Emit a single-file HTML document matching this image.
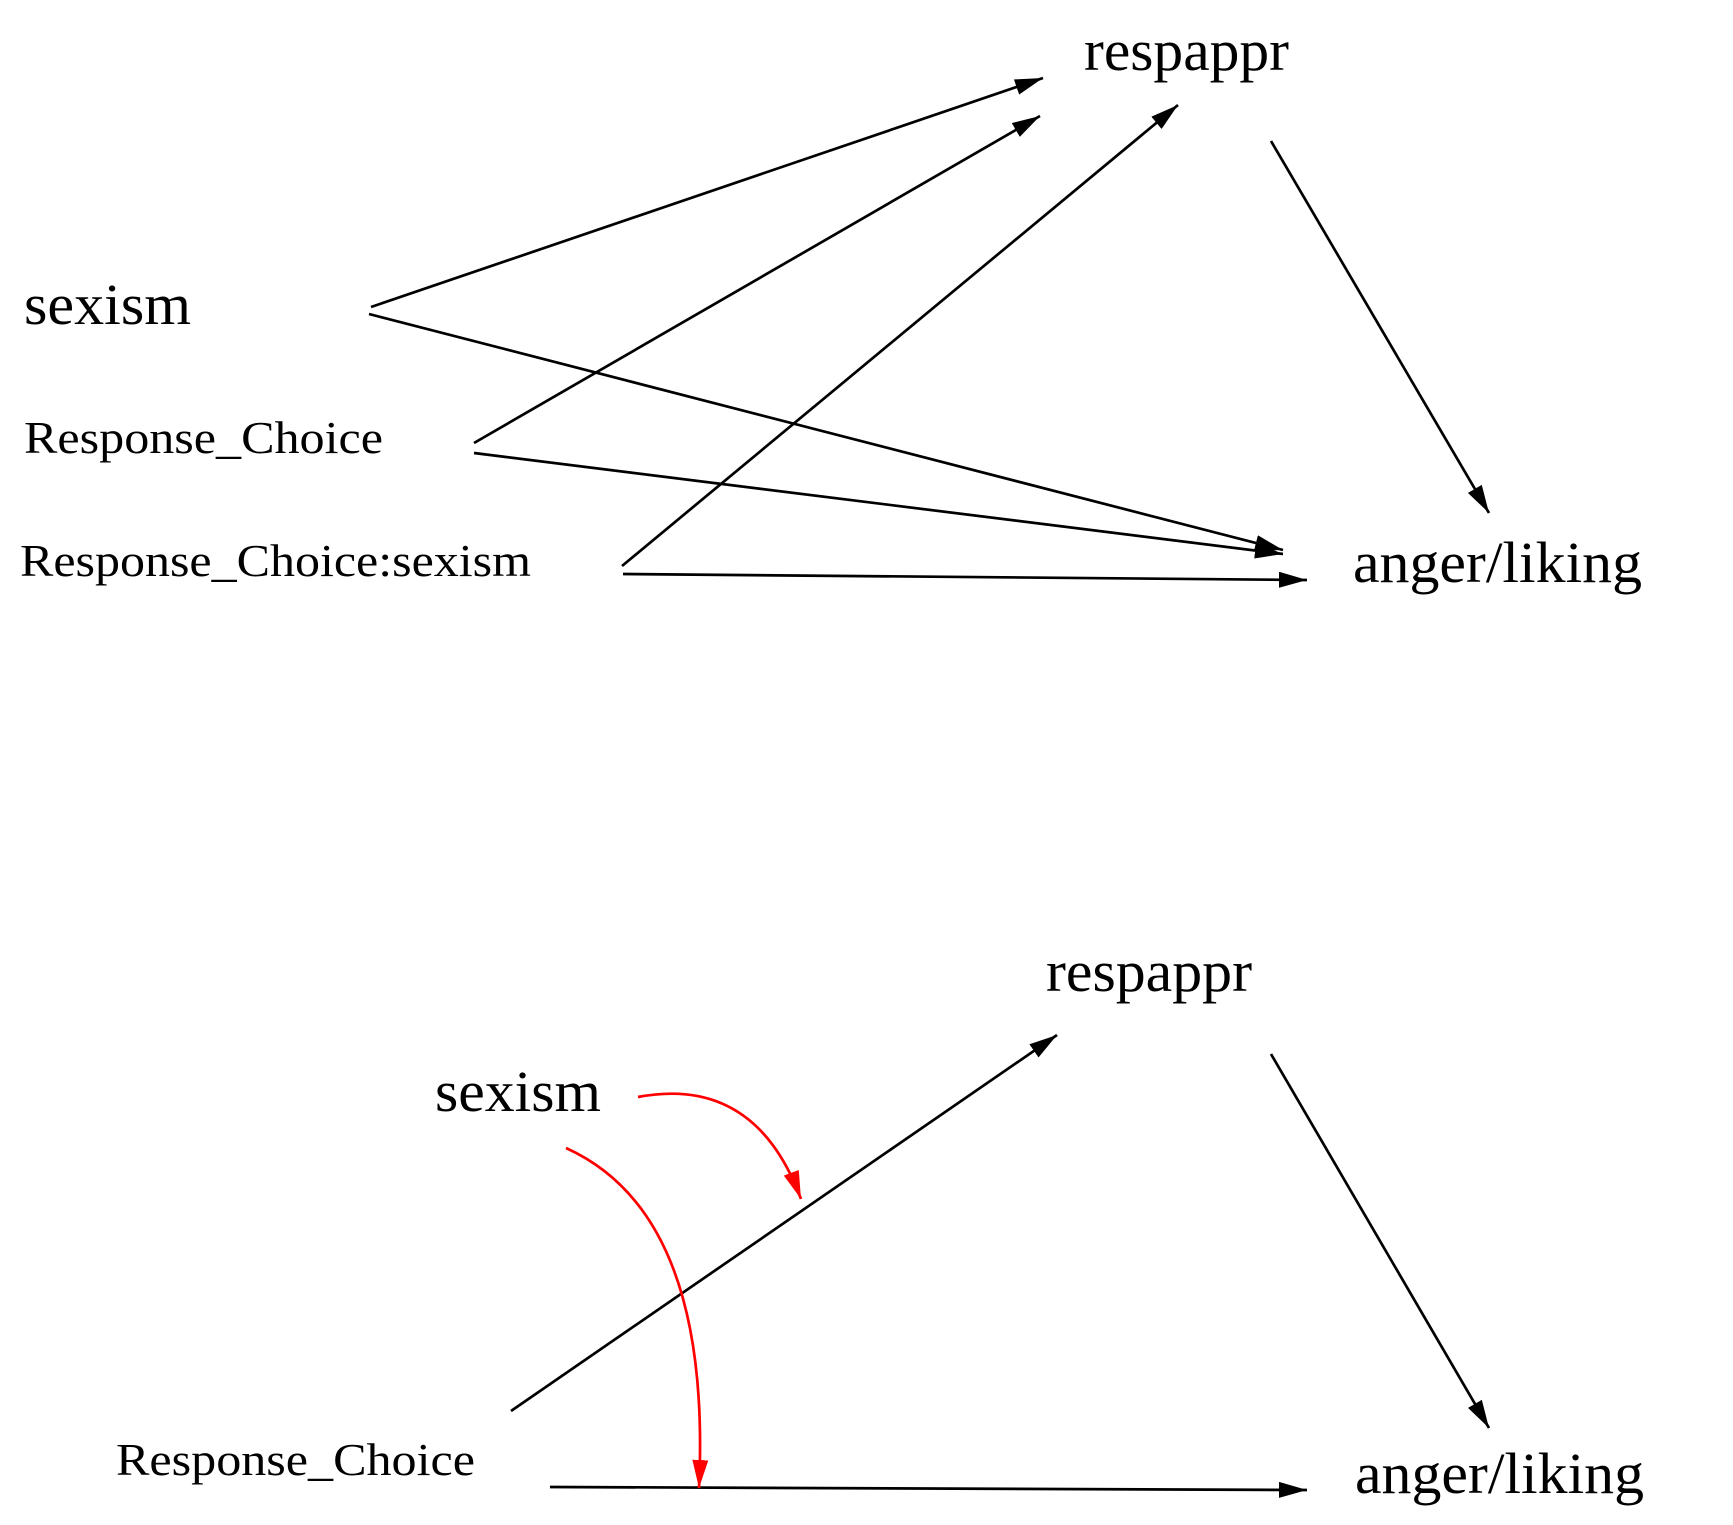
<!DOCTYPE html>
<html><head><meta charset="utf-8"><style>
html,body{margin:0;padding:0;background:#fff;}
svg{display:block;}
text{font-family:"Liberation Serif",serif;fill:#000;}
</style></head><body>
<svg width="1733" height="1525" viewBox="0 0 1733 1525" xmlns="http://www.w3.org/2000/svg">
<defs>
<marker id="a" markerWidth="28" markerHeight="16" refX="28" refY="8" orient="auto" markerUnits="userSpaceOnUse">
<path d="M0,0 L28,8 L0,16 z" fill="#000"/></marker>
<marker id="r" markerWidth="28" markerHeight="16" refX="28" refY="8" orient="auto" markerUnits="userSpaceOnUse">
<path d="M0,0 L28,8 L0,16 z" fill="#f00"/></marker>
</defs>
<g font-size="58">
<text x="1084" y="70" textLength="205" lengthAdjust="spacingAndGlyphs">respappr</text>
<text x="24" y="324" textLength="167" lengthAdjust="spacingAndGlyphs">sexism</text>
<text x="1353" y="582" textLength="289" lengthAdjust="spacingAndGlyphs">anger/liking</text>
<text x="1046" y="991" textLength="206" lengthAdjust="spacingAndGlyphs">respappr</text>
<text x="435" y="1111" textLength="166" lengthAdjust="spacingAndGlyphs">sexism</text>
<text x="1355" y="1493" textLength="289" lengthAdjust="spacingAndGlyphs">anger/liking</text>
</g>
<g font-size="46">
<text x="24" y="453" textLength="359" lengthAdjust="spacingAndGlyphs">Response_Choice</text>
<text x="20" y="576" textLength="511" lengthAdjust="spacingAndGlyphs">Response_Choice:sexism</text>
<text x="116" y="1475" textLength="359" lengthAdjust="spacingAndGlyphs">Response_Choice</text>
</g>
<g stroke="#000" stroke-width="2.7" fill="none" marker-end="url(#a)">
<line x1="371" y1="307" x2="1043" y2="78"/>
<line x1="369" y1="314" x2="1283" y2="550"/>
<line x1="474" y1="443" x2="1040" y2="116"/>
<line x1="474" y1="453" x2="1283" y2="554"/>
<line x1="622" y1="566" x2="1178" y2="105"/>
<line x1="623" y1="574" x2="1307" y2="580"/>
<line x1="1271" y1="141" x2="1489" y2="513"/>
<line x1="511" y1="1411" x2="1057" y2="1035"/>
<line x1="550" y1="1487" x2="1307" y2="1490"/>
<line x1="1271" y1="1054" x2="1489" y2="1428"/>
</g>
<g stroke="#f00" stroke-width="2.7" fill="none" marker-end="url(#r)">
<path d="M638,1097 Q755,1075 801,1199"/>
<path d="M566,1148 Q712,1214 699,1488"/>
</g>
</svg>
</body></html>
